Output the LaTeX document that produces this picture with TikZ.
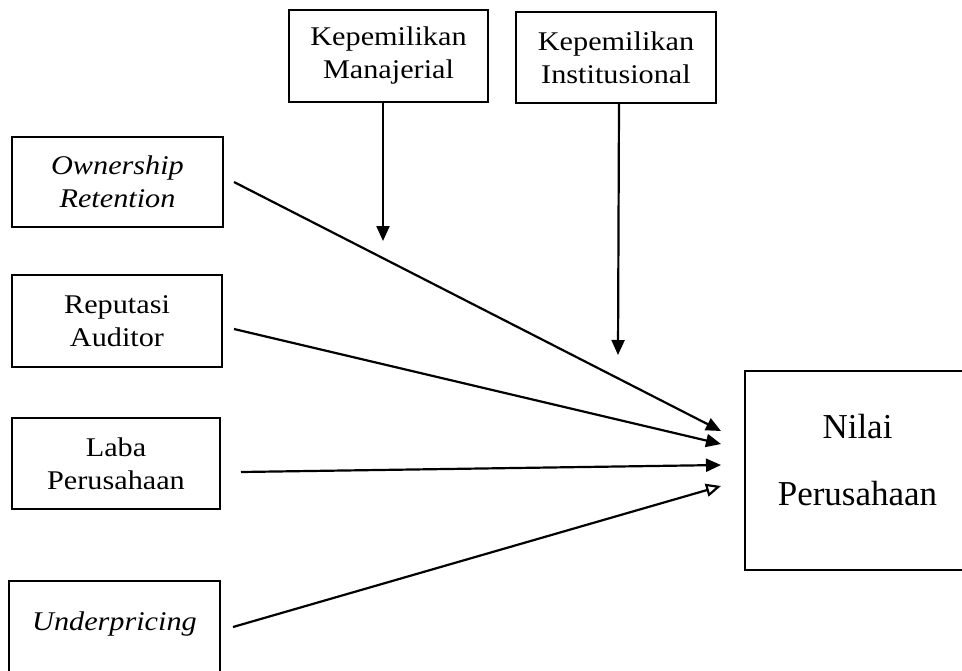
\documentclass[tikz,border=0pt]{standalone}
\usepackage{fontspec}
\setmainfont{Liberation Serif}
\newfontfamily\smallf[FakeStretch=1.12]{Liberation Serif}
\usetikzlibrary{arrows.meta}
\begin{document}
\begin{tikzpicture}[x=1pt,y=-1pt,
  box/.style={draw, line width=2pt, inner sep=0pt, align=center,
    font=\smallf\fontsize{27}{33}\selectfont},
  bigbox/.style={draw, line width=2pt, inner sep=0pt, align=center,
    font=\fontsize{35}{67}\selectfont},
  link/.style={line width=2.2pt, -{Triangle[length=15pt,width=13pt]}},
  openlink/.style={line width=2.2pt, -{Triangle[open,length=15pt,width=13pt]}}]
\useasboundingbox (0,0) rectangle (962,670);
\fill[white] (0,0) rectangle (962,670);

\node[box, minimum width=199pt, minimum height=92pt] (km) at (388.5,56) {Kepemilikan\\Manajerial};
\node[box, minimum width=200pt, minimum height=91pt] (ki) at (616,57.5) {Kepemilikan\\Institusional};

\node[box, minimum width=211pt, minimum height=90pt] (or) at (117.5,182) {\itshape Ownership\\\itshape Retention};
\node[box, minimum width=210pt, minimum height=92pt] (ra) at (117,321) {Reputasi\\Auditor};
\node[box, minimum width=208pt, minimum height=91pt] (lp) at (116,463.5) {Laba\\Perusahaan};
\node[box, minimum width=211pt, minimum height=139pt, text height=18pt, text depth=58pt] (up) at (114.5,650.5) {\itshape Underpricing};

\node[bigbox, minimum width=225pt, minimum height=199pt, text depth=22pt] (np) at (857.5,470.5) {Nilai\\Perusahaan};

\coordinate (kmend) at (383,241);
\coordinate (kiend) at (618,355);

\draw[link] ([xshift=-5.5pt]km.south) -- (kmend);
\draw[link] ([xshift=3pt]ki.south) -- (kiend);

\draw[link] ([xshift=10pt]or.east) -- ([xshift=-23pt,yshift=39.5pt]np.west);
\draw[link] ([xshift=11pt,yshift=-8pt]ra.east) -- ([xshift=-23pt,yshift=26.5pt]np.west);
\draw[link] ([xshift=20pt,yshift=-8.5pt]lp.east) -- ([xshift=-23pt,yshift=5.5pt]np.west);
\draw[openlink] ([xshift=12pt,yshift=23.5pt]up.east) -- ([xshift=-23pt,yshift=-15.5pt]np.west);
\end{tikzpicture}
\end{document}
